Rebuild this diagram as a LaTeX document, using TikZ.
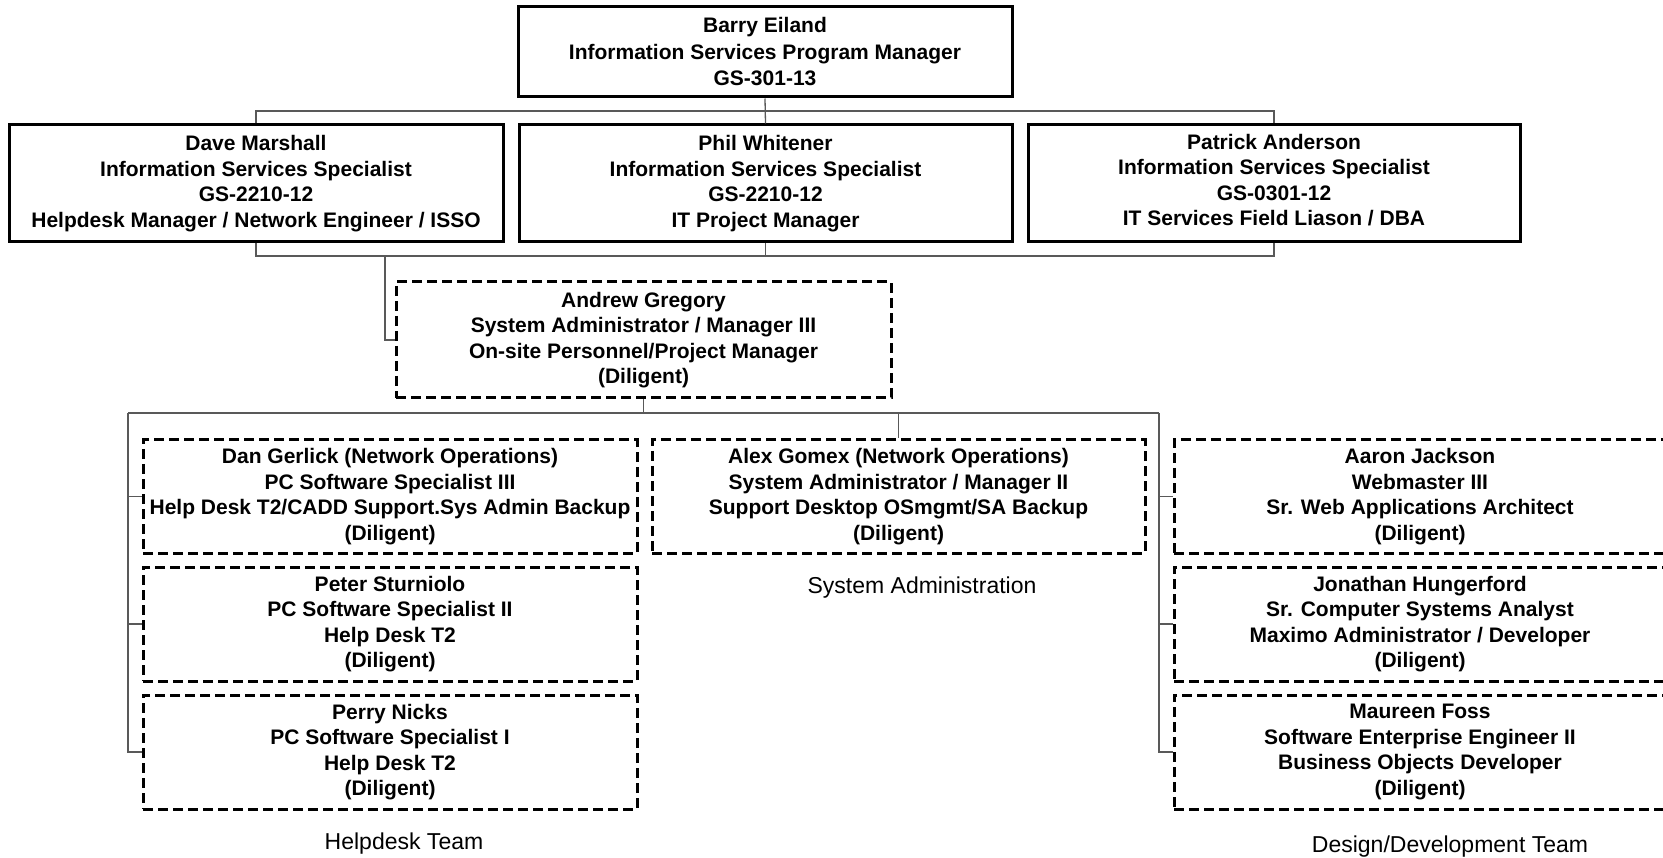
\documentclass[tikz,border=0pt]{standalone}
\usepackage{fontspec}
\setmainfont{Liberation Sans}
\begin{document}
\begin{tikzpicture}[x=1pt,y=-1pt,
  box/.style={draw=black, line width=3pt, inner sep=0pt, align=center, font=\fontsize{21}{25.5}\selectfont\bfseries},
  solidbox/.style={box},
  dashbox/.style={box, dash pattern=on 10pt off 5pt},
  conn/.style={draw=black!65, line width=1.3pt},
  team/.style={font=\fontsize{23}{27}\selectfont, inner sep=0pt}]
\fill[white] (0,0) rectangle (1663,858);
\useasboundingbox (0,0) rectangle (1663,858);
\clip (0,0) rectangle (1663,858);

% top level
\node[solidbox, minimum width=494pt, minimum height=90pt, font=\fontsize{21}{26.5}\selectfont\bfseries] (barry) at (765,52) {Barry Eiland\\Information Services Program Manager\\GS-301-13};
\node[solidbox, minimum width=494pt, minimum height=117pt] (dave) at (256,183.5) {Dave Marshall\\Information Services Specialist\\GS-2210-12\\Helpdesk Manager / Network Engineer / ISSO};
\node[solidbox, minimum width=493pt, minimum height=117pt] (phil) at (765.5,183.5) {Phil Whitener\\Information Services Specialist\\GS-2210-12\\IT Project Manager};
\node[solidbox, minimum width=492pt, minimum height=117pt] (patrick) at (1274,183.5) {Patrick Anderson\\Information Services Specialist\\GS-0301-12\\IT Services Field Liason / DBA\strut};

\node[dashbox, minimum width=495pt, minimum height=116pt] (andrew) at (643.5,340) {Andrew Gregory\\System Administrator / Manager III\\On-site Personnel/Project Manager\\(Diligent)};

% helpdesk
\node[dashbox, minimum width=494pt, minimum height=113pt] (dan) at (390,496.5) {Dan Gerlick (Network Operations)\\PC Software Specialist III\\Help Desk T2/CADD Support.Sys Admin Backup\\(Diligent)};
\node[dashbox, minimum width=494pt, minimum height=114pt] (peter) at (390,624) {Peter Sturniolo\\PC Software Specialist II\\Help Desk T2\\(Diligent)};
\node[dashbox, minimum width=494pt, minimum height=114pt] (perry) at (390,752) {Perry Nicks\\PC Software Specialist I\\Help Desk T2\\(Diligent)};

% system administration
\node[dashbox, minimum width=493pt, minimum height=113pt] (alex) at (898.5,496.5) {Alex Gomex (Network Operations)\\System Administrator / Manager II\\Support Desktop OSmgmt/SA Backup\\(Diligent)};

% design/development
\node[dashbox, minimum width=492pt, minimum height=113pt] (aaron) at (1420,496.5) {Aaron Jackson\\Webmaster III\\Sr. Web Applications Architect\\(Diligent)};
\node[dashbox, minimum width=492pt, minimum height=114pt] (jonathan) at (1420,624) {Jonathan Hungerford\\Sr. Computer Systems Analyst\\Maximo Administrator / Developer\\(Diligent)};
\node[dashbox, minimum width=492pt, minimum height=114pt] (maureen) at (1420,752) {Maureen Foss\\Software Enterprise Engineer II\\Business Objects Developer\\(Diligent)};

% team labels
\node[team] (helpdesk) at (404,844) {Helpdesk Team};
\node[team] (sysadm) at (922,588) {System Administration};
\node[team] (design) at (1450,847) {Design/Development Team};

% connectors
\coordinate (topbus) at (765,111);
\coordinate (botbus) at (765,256);
\coordinate (ajoin) at (385,256);
\coordinate (lbus) at (644,413);
\coordinate (lleft) at (128,413);
\coordinate (lright) at (1159,413);

\draw[conn] (barry.south) -- (phil.north);
\draw[conn] (dave.north) -- (dave.north |- topbus) -- (patrick.north |- topbus) -- (patrick.north);
\draw[conn] (dave.south) -- (dave.south |- botbus) -- (patrick.south |- botbus) -- (patrick.south);
\draw[conn] (phil.south) -- (phil.south |- botbus);
\draw[conn] (ajoin) |- (andrew.west);

\draw[conn] (andrew.south) -- (andrew.south |- lbus);
\draw[conn] (lleft) -- (lright);
\draw[conn] (lleft) |- (perry.west);
\draw[conn] (lleft |- dan.west) -- (dan.west);
\draw[conn] (lleft |- peter.west) -- (peter.west);
\draw[conn] (alex.north |- lbus) -- (alex.north);
\draw[conn] (lright) |- (maureen.west);
\draw[conn] (lright |- aaron.west) -- (aaron.west);
\draw[conn] (lright |- jonathan.west) -- (jonathan.west);
\end{tikzpicture}
\end{document}
